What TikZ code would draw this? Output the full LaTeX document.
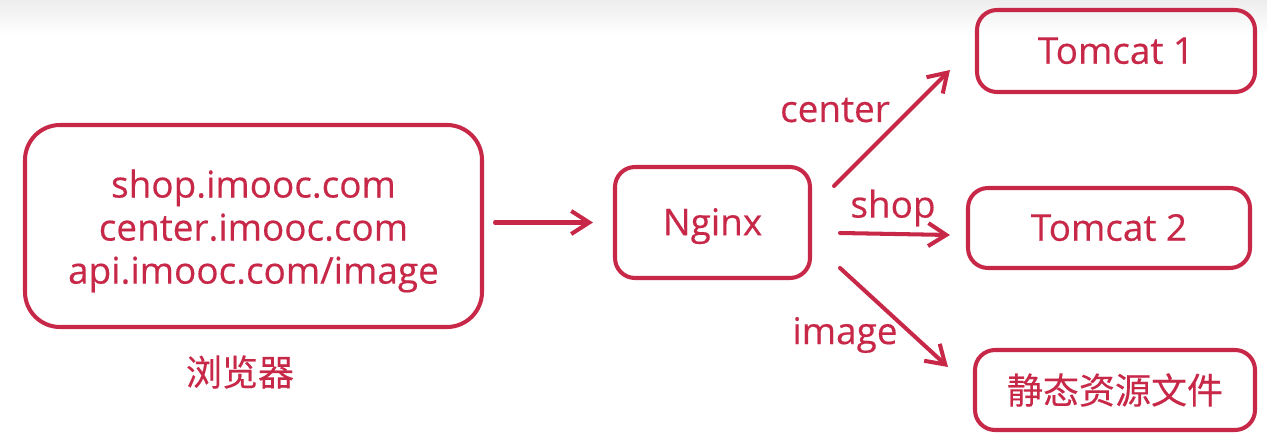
\documentclass[tikz,border=0pt]{standalone}
\usepackage{fontspec}
\setmainfont{Open Sans}[FakeBold=0.4]
\newfontfamily\cjk{Noto Sans CJK SC}[FakeBold=0.3]
\usepackage{tikz}
\usetikzlibrary{arrows.meta}
\definecolor{rosered}{RGB}{200,40,72}

\begin{document}
\begin{tikzpicture}[
		box/.style={draw=rosered, line width=2.3pt, rounded corners=0.4cm, text=rosered,
			font=\fontsize{21}{24.5}\selectfont, align=center, inner sep=0pt},
		onebox/.style={box, text height=0.65cm, text depth=0.14cm},
		arr/.style={draw=rosered, line width=2.3pt, line cap=round,
			-{Straight Barb[length=0.36cm, width=0.46cm, line width=2.3pt]}},
		lbl/.style={text=rosered, font=\fontsize{21}{24.5}\selectfont, inner sep=0pt}
	]
				\useasboundingbox (0,0) rectangle (25.34,-8.84);
				\shade [top color=black!7, bottom color=white] (0,0) rectangle (25.34,-0.7);
				% boxes
				\node [box, rounded corners=0.7cm, minimum width=9.14cm, minimum height=4.04cm] (browser) at (5.07,-4.52)
					{\rule{0pt}{0.76cm}shop.imooc.com\\center.imooc.com\\api.imooc.com/image};
				\node [lbl, font=\cjk\fontsize{20.5}{24}\selectfont] (browserlbl) at (4.8,-7.44) {浏览器};
				\node [onebox, minimum width=3.9cm, minimum height=2.22cm] (nginx) at (14.25,-4.45) {Nginx};
				\node [onebox, minimum width=5.56cm, minimum height=1.64cm] (tomcat1) at (22.32,-1.02) {Tomcat 1};
				\node [onebox, minimum width=5.64cm, minimum height=1.6cm] (tomcat2) at (22.18,-4.56) {Tomcat 2};
				\node [box, font=\cjk\fontsize{20.5}{24}\selectfont, minimum width=5.6cm, minimum height=1.6cm] (static) at (22.3,-7.8) {静态资源文件};
				% arrows
				\draw [arr] ([xshift=0.22cm]browser.east |- nginx.west) -- ([xshift=-0.4cm]nginx.west);
				\draw [arr] ([xshift=0.44cm,yshift=0.73cm]nginx.east) -- ([xshift=-0.5cm,yshift=-0.38cm]tomcat1.west);
				\draw [arr] ([xshift=0.56cm,yshift=-0.21cm]nginx.east) -- ([xshift=-0.32cm,yshift=-0.14cm]tomcat2.west);
				\draw [arr] ([xshift=0.56cm,yshift=-0.91cm]nginx.east) -- ([xshift=-0.5cm,yshift=0.46cm]static.west);
				% labels
				\node [lbl] (centerlbl) at (16.7,-2.2) {center};
				\node [lbl] (shoplbl) at (17.86,-4.16) {shop};
				\node [lbl] (imagelbl) at (16.9,-6.7) {image};
				\end{tikzpicture}
\end{document}
